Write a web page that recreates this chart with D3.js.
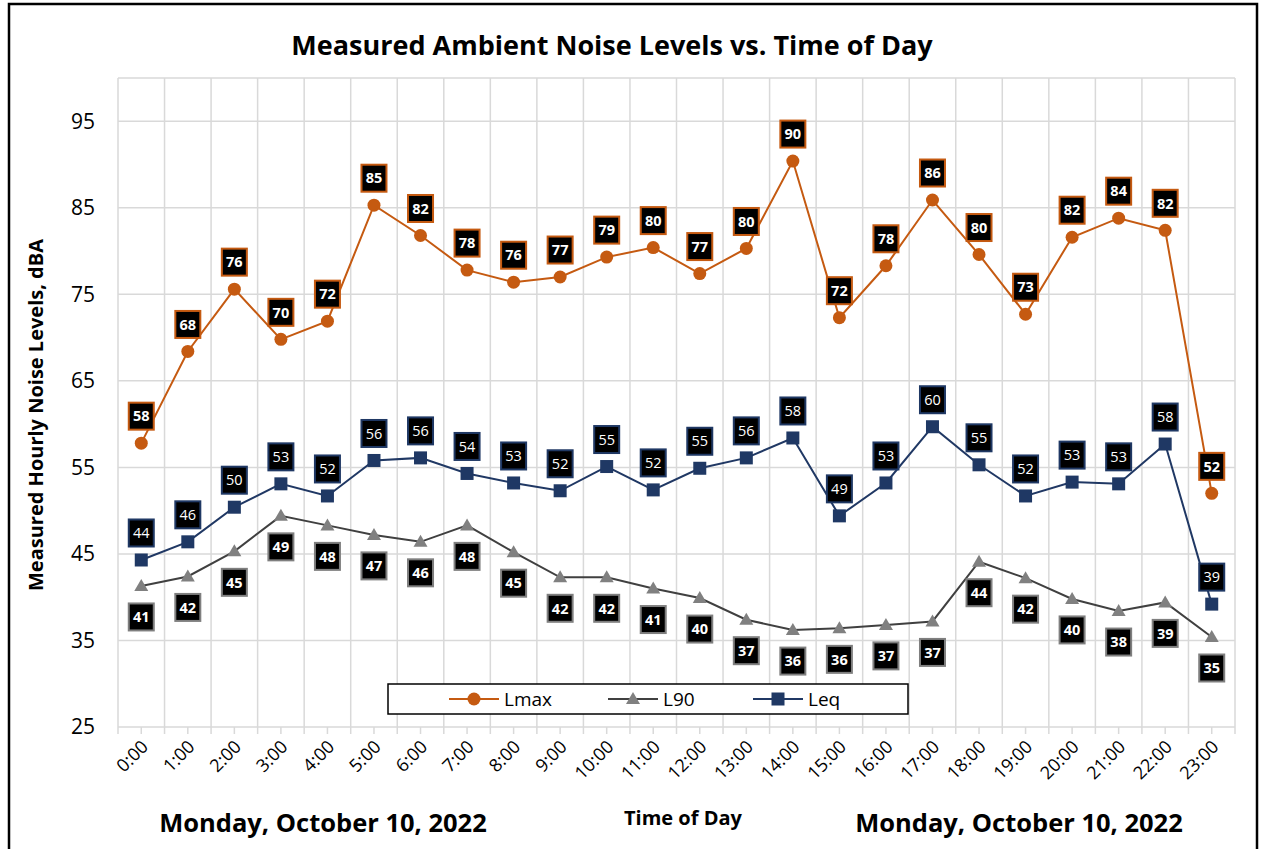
<!DOCTYPE html>
<html>
<head>
<meta charset="utf-8">
<script src="https://cdn.jsdelivr.net/npm/d3@7"></script>
<style>
  html, body { margin: 0; padding: 0; background: #fff; }
  svg { display: block; font-family: "Open Sans", Lato, "DejaVu Sans", sans-serif; }
</style>
</head>
<body>
<svg id="chart" width="1266" height="849"></svg>
<script>
// Hourly measurements, Monday October 10, 2022
const hours = ["0:00","1:00","2:00","3:00","4:00","5:00","6:00","7:00","8:00","9:00","10:00","11:00",
               "12:00","13:00","14:00","15:00","16:00","17:00","18:00","19:00","20:00","21:00","22:00","23:00"];
const lmax = [57.8, 68.4, 75.6, 69.8, 71.9, 85.3, 81.8, 77.8, 76.4, 77.0, 79.3, 80.4,
              77.4, 80.3, 90.4, 72.3, 78.3, 85.9, 79.6, 72.7, 81.6, 83.8, 82.4, 52.0];
const l90  = [41.3, 42.4, 45.3, 49.4, 48.3, 47.2, 46.4, 48.3, 45.2, 42.3, 42.3, 41.0,
              39.9, 37.4, 36.2, 36.4, 36.8, 37.2, 44.1, 42.2, 39.8, 38.4, 39.4, 35.4];
const leq  = [44.3, 46.4, 50.4, 53.1, 51.7, 55.8, 56.1, 54.3, 53.2, 52.3, 55.1, 52.4,
              54.9, 56.1, 58.4, 49.4, 53.2, 59.7, 55.3, 51.7, 53.3, 53.1, 57.7, 39.2];
const yTicks = [25, 35, 45, 55, 65, 75, 85, 95];

const series = [
  { name: "Lmax", values: lmax, line: "#C55A11", fill: "#C55A11", border: "#C55A11", shape: "circle",   weight: "bold",   labelPos: "above" },
  { name: "L90",  values: l90,  line: "#404040", fill: "#808080", border: "#7F7F7F", shape: "triangle", weight: "bold",   labelPos: "below" },
  { name: "Leq",  values: leq,  line: "#203864", fill: "#1F3864", border: "#1F3864", shape: "square",   weight: "normal", labelPos: "above" }
];

const svg = d3.select("#chart");
const plot = { left: 118, right: 1235, top: 78, bottom: 727 };

const x = d3.scaleBand().domain(hours).range([plot.left, plot.right]);
const y = d3.scaleLinear().domain([25, 100]).range([plot.bottom, plot.top]);
const cx = d => x(d) + x.bandwidth() / 2;

// outer frame
svg.append("rect").attr("x", 9).attr("y", 4).attr("width", 1248).attr("height", 860)
  .attr("fill", "none").attr("stroke", "#000").attr("stroke-width", 2.5);

// title
svg.append("text").attr("x", 612).attr("y", 55).attr("text-anchor", "middle")
  .attr("font-size", 27).attr("font-weight", "bold").attr("fill", "#000")
  .text("Measured Ambient Noise Levels vs. Time of Day");

// gridlines
const grid = svg.append("g").attr("stroke", "#D9D9D9").attr("stroke-width", 1.5);
grid.selectAll("line.h").data(yTicks.concat([100])).join("line")
  .attr("x1", plot.left).attr("x2", plot.right)
  .attr("y1", d => y(d)).attr("y2", d => y(d));
const bounds = hours.map(h => x(h)).concat([plot.right]);
grid.selectAll("line.v").data(bounds).join("line")
  .attr("x1", d => d).attr("x2", d => d)
  .attr("y1", plot.top).attr("y2", plot.bottom);

// x axis with major (boundary) and minor (center) ticks
const xAxisG = svg.append("g").attr("stroke", "#D9D9D9").attr("stroke-width", 1.5);
xAxisG.selectAll("line.tb").data(bounds).join("line")
  .attr("x1", d => d).attr("x2", d => d).attr("y1", plot.bottom).attr("y2", plot.bottom + 7);
xAxisG.selectAll("line.tc").data(hours).join("line")
  .attr("x1", d => cx(d)).attr("x2", d => cx(d)).attr("y1", plot.bottom).attr("y2", plot.bottom + 7);

svg.append("g").selectAll("text").data(hours).join("text")
  .attr("transform", d => `translate(${cx(d) + 8},${plot.bottom + 21}) rotate(-45)`)
  .attr("text-anchor", "end").attr("font-size", 18).attr("fill", "#000")
  .text(d => d);

// y axis labels
const yAxis = d3.axisLeft(y).tickValues(yTicks).tickSize(0).tickPadding(23);
const yG = svg.append("g").attr("transform", `translate(${plot.left},0)`).call(yAxis);
yG.select(".domain").remove();
yG.selectAll("text").attr("font-size", 21).attr("font-family", "'Open Sans', Lato, sans-serif").attr("fill", "#000");

// axis titles
svg.append("text").attr("transform", "translate(43,415) rotate(-90)").attr("text-anchor", "middle")
  .attr("font-size", 20).attr("font-weight", "bold").attr("fill", "#000")
  .text("Measured Hourly Noise Levels, dBA");
svg.append("text").attr("x", 683).attr("y", 825).attr("text-anchor", "middle")
  .attr("font-size", 20).attr("font-weight", "bold").attr("fill", "#000").text("Time of Day");
svg.append("text").attr("x", 323).attr("y", 832).attr("text-anchor", "middle")
  .attr("font-size", 25.5).attr("font-weight", "bold").attr("fill", "#000").text("Monday, October 10, 2022");
svg.append("text").attr("x", 1019).attr("y", 832).attr("text-anchor", "middle")
  .attr("font-size", 25.5).attr("font-weight", "bold").attr("fill", "#000").text("Monday, October 10, 2022");

// marker drawing
function marker(g, shape, fill) {
  if (shape === "circle") {
    g.append("circle").attr("r", 6.5).attr("fill", fill);
  } else if (shape === "triangle") {
    g.append("path").attr("d", "M0,-7 L7,5 L-7,5 Z").attr("fill", fill);
  } else {
    g.append("rect").attr("x", -6.5).attr("y", -6.5).attr("width", 13).attr("height", 13).attr("fill", fill);
  }
}

const line = d3.line().x((d, i) => cx(hours[i])).y(d => y(d));

series.forEach(s => {
  const g = svg.append("g");
  g.append("path").datum(s.values).attr("d", line)
    .attr("fill", "none").attr("stroke", s.line).attr("stroke-width", 2);
  g.selectAll("g.m").data(s.values).join("g")
    .attr("transform", (d, i) => `translate(${cx(hours[i])},${y(d)})`)
    .each(function() { marker(d3.select(this), s.shape, s.fill); });
});

// value labels
series.forEach(s => {
  const lg = svg.append("g").selectAll("g").data(s.values).join("g")
    .attr("transform", (d, i) => {
      const dy = s.labelPos === "above" ? -27 : 31;
      return `translate(${cx(hours[i])},${y(d) + dy})`;
    });
  lg.append("rect").attr("x", -12.5).attr("y", -13.5).attr("width", 25).attr("height", 27)
    .attr("fill", "#000").attr("stroke", s.border).attr("stroke-width", 2);
  lg.append("text").attr("text-anchor", "middle").attr("dy", "0.36em")
    .attr("font-size", 14.5).attr("font-weight", s.weight).attr("fill", "#fff")
    .text(d => d3.format(".0f")(d));
});

// legend
const legend = svg.append("g");
legend.append("rect").attr("x", 388).attr("y", 684).attr("width", 520).attr("height", 30)
  .attr("fill", "#fff").attr("stroke", "#000").attr("stroke-width", 1.5);
const legendX = [449, 608, 753];
series.forEach((s, i) => {
  const lx = legendX[i], ly = 699;
  legend.append("line").attr("x1", lx).attr("x2", lx + 50).attr("y1", ly).attr("y2", ly)
    .attr("stroke", s.line).attr("stroke-width", 2);
  const m = legend.append("g").attr("transform", `translate(${lx + 25},${ly})`);
  marker(m, s.shape, s.fill);
  legend.append("text").attr("x", lx + 55).attr("y", ly).attr("dy", "0.36em")
    .attr("font-size", 19).attr("fill", "#000").text(s.name);
});
</script>
</body>
</html>
